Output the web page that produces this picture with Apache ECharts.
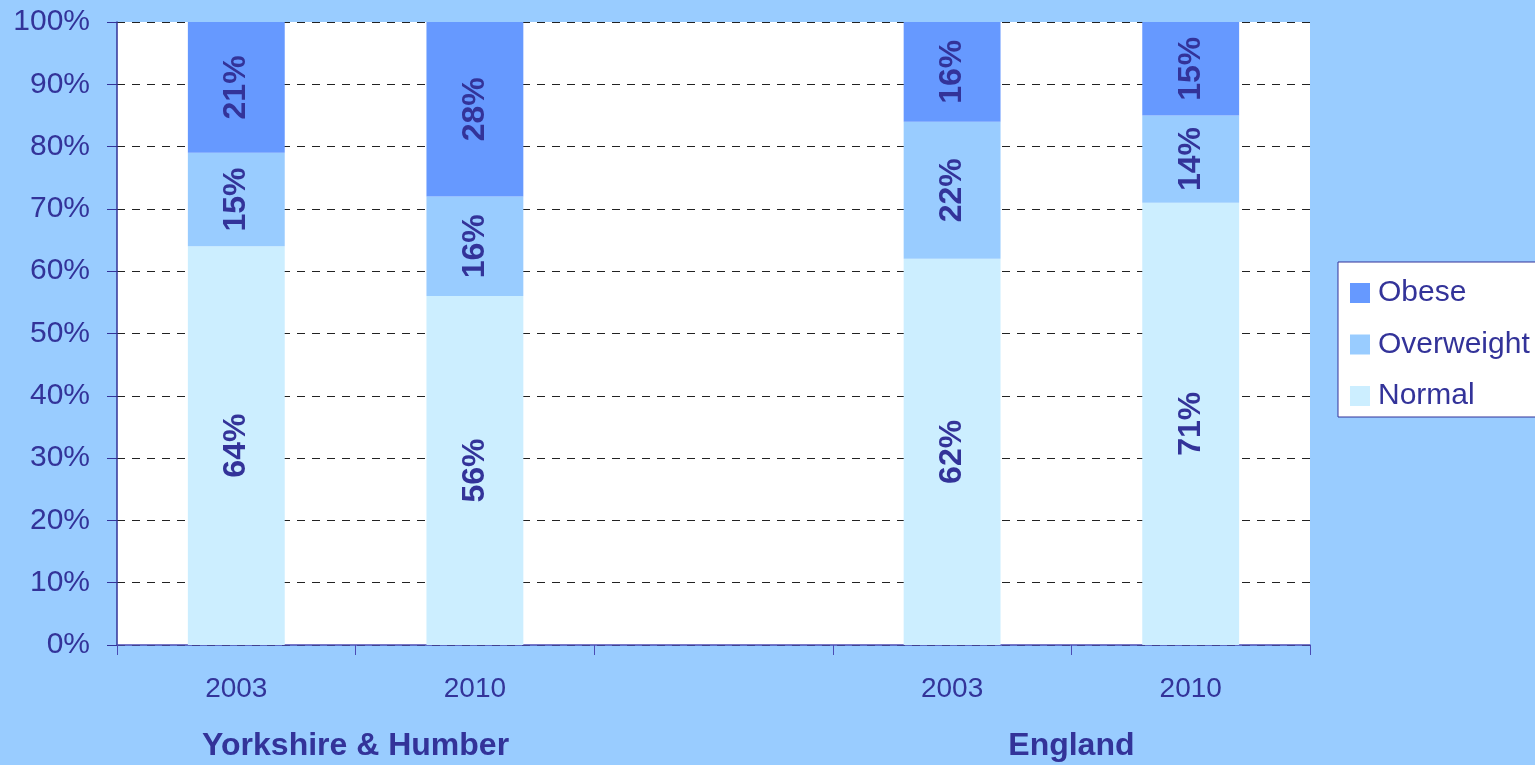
<!DOCTYPE html>
<html>
<head>
<meta charset="utf-8">
<title>Weight status</title>
<script src="https://cdn.jsdelivr.net/npm/echarts@6/dist/echarts.min.js"></script>
<style>
    html, body { margin: 0; padding: 0; background: #99ccff; }
    #chart { width: 1535px; height: 765px; }
</style>
</head>
<body>
<div id="chart"></div>
<script>
// ======================
// DATA
// ======================

const years = ['2003', '2010', '', '2003', '2010'];
const regions = ['', '', 'Yorkshire & Humber', '', '', '', '', '', 'England', '', ''];
const normal = [64, 56, null, 62, 71];
const overweight = [15, 16, null, 22, 14];
const obese = [21, 28, null, 16, 15];

// ======================
// STYLE
// ======================

const TEXT = '#333399';
const FONT = '"Liberation Sans", Arial, sans-serif';

function barSeries(name, data, color) {
    return {
        name: name,
        type: 'bar',
        stack: 'total',
        barWidth: '40.6%',
        data: data,
        itemStyle: { color: color },
        label: {
            show: true,
            position: 'inside',
            rotate: 90,
            formatter: '{c}%',
            fontFamily: FONT,
            fontWeight: 'bold',
            fontSize: 32,
            color: TEXT
        }
    };
}

// ======================
// INIT CHART
// ======================

const chart = echarts.init(document.getElementById('chart'));

chart.setOption({
    backgroundColor: '#99ccff',
    animation: false,
    textStyle: { fontFamily: FONT },
    grid: {
        left: 117,
        right: 225,
        top: 22,
        bottom: 120,
        show: true,
        backgroundColor: '#ffffff',
        borderWidth: 0
    },
    legend: {
        orient: 'vertical',
        left: 1338,
        top: 262,
        data: ['Obese', 'Overweight', 'Normal'],
        icon: 'rect',
        itemWidth: 20,
        itemHeight: 20,
        itemGap: 17.5,
        padding: [14, 10, 4, 12],
        backgroundColor: '#ffffff',
        borderColor: '#333399',
        borderWidth: 1,
        textStyle: {
            fontFamily: FONT,
            fontSize: 30,
            lineHeight: 30,
            color: TEXT,
            padding: [0, 0, 4, 3]
        }
    },
    xAxis: [
        {
            type: 'category',
            data: years,
            axisLine: { lineStyle: { color: '#4b4bb5', width: 1.5 } },
            axisTick: { show: true, length: 10, lineStyle: { color: '#4b4bb5' } },
            axisLabel: {
                interval: 0,
                margin: 30,
                fontFamily: FONT,
                fontSize: 28,
                color: TEXT
            }
        },
        {
            type: 'category',
            position: 'bottom',
            boundaryGap: false,
            data: regions,
            axisLine: { show: false },
            axisTick: { show: false },
            axisLabel: {
                interval: 0,
                margin: 85,
                fontFamily: FONT,
                fontWeight: 'bold',
                fontSize: 32,
                color: TEXT
            }
        }
    ],
    yAxis: {
        type: 'value',
        min: 0,
        max: 100,
        interval: 10,
        axisLine: { show: true, lineStyle: { color: '#333399', width: 1.5 } },
        axisTick: { show: true, length: 10, lineStyle: { color: '#333399' } },
        axisLabel: {
            formatter: '{value}%',
            margin: 27,
            fontFamily: FONT,
            fontSize: 30,
            color: TEXT
        },
        splitLine: {
            show: true,
            lineStyle: { color: '#222222', type: [8, 7], width: 1 }
        }
    },
    series: [
        barSeries('Normal', normal, '#cceeff'),
        barSeries('Overweight', overweight, '#99ccff'),
        barSeries('Obese', obese, '#6699ff')
    ]
});
</script>
</body>
</html>
